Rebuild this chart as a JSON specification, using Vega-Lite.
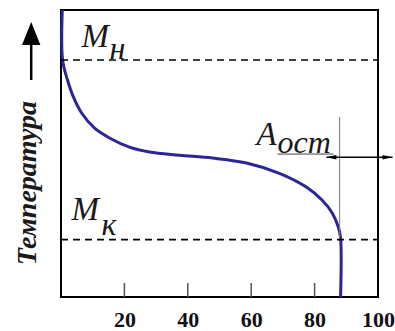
{
  "$schema": "https://vega.github.io/schema/vega-lite/v6.json",
  "autosize": {"type": "none"},
  "width": 317,
  "height": 287,
  "padding": {"left": 61, "top": 10, "right": 17, "bottom": 34},
  "background": "white",
  "config": {"view": {"stroke": "black", "strokeWidth": 2}},
  "datasets": {
    "curve": [
      {"i": 0, "x": 0.4, "y": 100},
      {"i": 1, "x": 0.5, "y": 82.6},
      {"i": 2, "x": 2.05, "y": 75.6},
      {"i": 3, "x": 3.9, "y": 69.7},
      {"i": 4, "x": 6.5, "y": 64.1},
      {"i": 5, "x": 10.6, "y": 58.8},
      {"i": 6, "x": 15.3, "y": 55.4},
      {"i": 7, "x": 21.6, "y": 52.2},
      {"i": 8, "x": 27.9, "y": 50.5},
      {"i": 9, "x": 37.4, "y": 49.4},
      {"i": 10, "x": 47.8, "y": 48.4},
      {"i": 11, "x": 58.5, "y": 46.7},
      {"i": 12, "x": 68.9, "y": 43.1},
      {"i": 13, "x": 77.4, "y": 38.3},
      {"i": 14, "x": 82.4, "y": 33.7},
      {"i": 15, "x": 85.6, "y": 29.2},
      {"i": 16, "x": 87.5, "y": 24.3},
      {"i": 17, "x": 88.2, "y": 20.5},
      {"i": 18, "x": 88.2, "y": 0}
    ],
    "ticks": [{"x": 20, "y": 0, "y2": 4.9}, {"x": 40, "y": 0, "y2": 4.9}, {"x": 60, "y": 0, "y2": 4.9}, {"x": 80, "y": 0, "y2": 4.9}],
    "levels": [{"name": "Mн", "x": 0, "x2": 100, "y": 82.6}, {"name": "Mк", "x": 0, "x2": 100, "y": 20}],
    "vline": [{"x": 87.9, "y": 20.5, "y2": 62.7}],
    "underline": [{"x": 68.3, "x2": 86, "y": 49.8}],
    "harrow": [{"x": 83.75, "x2": 104.6, "y": 48.7}],
    "shaft": [{"x": -9.4, "y": 75.6, "y2": 88.5}],
    "headUp": [{"x": -9.4, "y": 91.8}],
    "headLeft": [{"x": 85.3, "y": 48.7}],
    "headRight": [{"x": 103.0, "y": 48.7}],
    "bigText": [
      {"x": 6.5, "y": 87.2, "t": "M"},
      {"x": 3.3, "y": 26.8, "t": "M"},
      {"x": 61.7, "y": 52.9, "t": "A"}
    ],
    "subText": [
      {"x": 15.3, "y": 82.9, "t": "н"},
      {"x": 12.8, "y": 21.5, "t": "к"},
      {"x": 68.3, "y": 50.3, "t": "ост"}
    ],
    "titleText": [{"x": -10.3, "y": 39.7, "t": "Температура"}]
  },
  "layer": [
    {
      "data": {"name": "curve"},
      "mark": {"type": "line", "stroke": "#2b2596", "strokeWidth": 3, "interpolate": "catmull-rom"},
      "encoding": {
        "x": {"field": "x", "type": "quantitative", "scale": {"domain": [0, 100], "nice": false},
          "axis": {"values": [20, 40, 60, 80, 100], "title": null, "grid": false, "domain": false,
            "ticks": false,
            "labelFont": "Liberation Serif", "labelFontWeight": "bold", "labelFontSize": 22,
            "labelColor": "#111111", "labelPadding": 12, "labelFlush": false, "labelOverlap": false}},
        "y": {"field": "y", "type": "quantitative", "scale": {"domain": [0, 100], "nice": false}, "axis": null},
        "order": {"field": "i"}
      }
    },
    {
      "data": {"name": "ticks"},
      "mark": {"type": "rule", "stroke": "#555555", "strokeWidth": 1.5},
      "encoding": {
        "x": {"field": "x", "type": "quantitative"},
        "y": {"field": "y", "type": "quantitative"},
        "y2": {"field": "y2"}
      }
    },
    {
      "data": {"name": "levels"},
      "mark": {"type": "rule", "stroke": "black", "strokeWidth": 1.6, "strokeDash": [7, 5]},
      "encoding": {
        "x": {"field": "x", "type": "quantitative"},
        "x2": {"field": "x2"},
        "y": {"field": "y", "type": "quantitative"}
      }
    },
    {
      "data": {"name": "vline"},
      "mark": {"type": "rule", "stroke": "#777777", "strokeWidth": 1},
      "encoding": {
        "x": {"field": "x", "type": "quantitative"},
        "y": {"field": "y", "type": "quantitative"},
        "y2": {"field": "y2"}
      }
    },
    {
      "data": {"name": "underline"},
      "mark": {"type": "rule", "stroke": "#444444", "strokeWidth": 1},
      "encoding": {
        "x": {"field": "x", "type": "quantitative"},
        "x2": {"field": "x2"},
        "y": {"field": "y", "type": "quantitative"}
      }
    },
    {
      "data": {"name": "harrow"},
      "mark": {"type": "rule", "stroke": "black", "strokeWidth": 1.5},
      "encoding": {
        "x": {"field": "x", "type": "quantitative"},
        "x2": {"field": "x2"},
        "y": {"field": "y", "type": "quantitative"}
      }
    },
    {
      "data": {"name": "shaft"},
      "mark": {"type": "rule", "stroke": "black", "strokeWidth": 2.5},
      "encoding": {
        "x": {"field": "x", "type": "quantitative"},
        "y": {"field": "y", "type": "quantitative"},
        "y2": {"field": "y2"}
      }
    },
    {
      "data": {"name": "headUp"},
      "mark": {"type": "point", "filled": true, "color": "black", "opacity": 1, "shape": "M0,-1L0.8,1L-0.8,1Z", "size": 529},
      "encoding": {
        "x": {"field": "x", "type": "quantitative"},
        "y": {"field": "y", "type": "quantitative"}
      }
    },
    {
      "data": {"name": "headLeft"},
      "mark": {"type": "point", "filled": true, "color": "black", "opacity": 1, "shape": "M-1,0L1,-0.45L1,0.45Z", "size": 100},
      "encoding": {
        "x": {"field": "x", "type": "quantitative"},
        "y": {"field": "y", "type": "quantitative"}
      }
    },
    {
      "data": {"name": "headRight"},
      "mark": {"type": "point", "filled": true, "color": "black", "opacity": 1, "shape": "M1,0L-1,-0.45L-1,0.45Z", "size": 100},
      "encoding": {
        "x": {"field": "x", "type": "quantitative"},
        "y": {"field": "y", "type": "quantitative"}
      }
    },
    {
      "data": {"name": "bigText"},
      "mark": {"type": "text", "font": "Liberation Serif", "fontStyle": "italic", "fontSize": 33, "align": "left", "baseline": "alphabetic", "color": "#1a1a1a"},
      "encoding": {
        "x": {"field": "x", "type": "quantitative"},
        "y": {"field": "y", "type": "quantitative"},
        "text": {"field": "t"}
      }
    },
    {
      "data": {"name": "subText"},
      "mark": {"type": "text", "font": "Liberation Serif", "fontStyle": "italic", "fontSize": 32, "align": "left", "baseline": "alphabetic", "color": "#1a1a1a"},
      "encoding": {
        "x": {"field": "x", "type": "quantitative"},
        "y": {"field": "y", "type": "quantitative"},
        "text": {"field": "t"}
      }
    },
    {
      "data": {"name": "titleText"},
      "mark": {"type": "text", "font": "Liberation Serif", "fontStyle": "italic", "fontWeight": "bold", "fontSize": 28, "angle": 270, "align": "center", "baseline": "middle", "color": "#1a1a1a"},
      "encoding": {
        "x": {"field": "x", "type": "quantitative"},
        "y": {"field": "y", "type": "quantitative"},
        "text": {"field": "t"}
      }
    }
  ]
}
